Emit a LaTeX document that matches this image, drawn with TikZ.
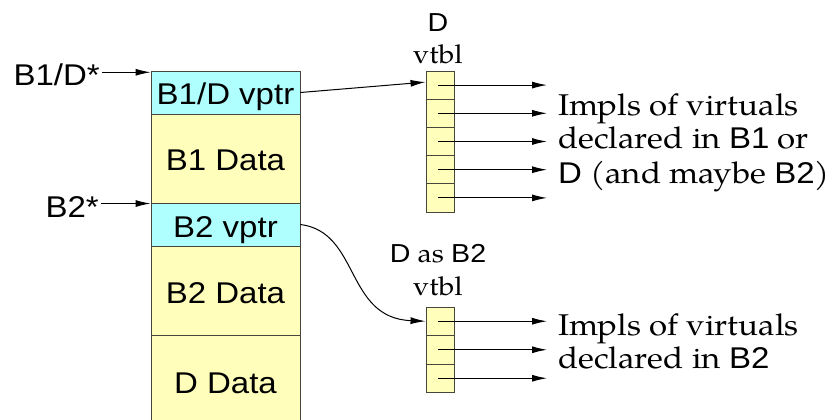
\documentclass[tikz,border=0pt]{standalone}
\usepackage{fontspec}
\setmainfont{TeX Gyre Pagella}
\newfontfamily\hv{Liberation Sans}
\usepackage{graphicx}
\usetikzlibrary{arrows.meta}
\definecolor{vcyan}{RGB}{176,255,255}
\definecolor{vyel}{RGB}{255,255,187}
\definecolor{edgec}{RGB}{70,70,60}
\newcommand{\hs}[1]{\scalebox{1.1}[1]{#1}}
\newcommand{\fbig}{\fontsize{30}{34}\selectfont}
\newcommand{\fsmall}{\fontsize{26}{30}\selectfont}
\tikzset{
  objbox/.style={draw=edgec, line width=0.9pt, minimum width=149pt, inner sep=0pt,
    text height=25pt, text depth=0pt, font=\hv\fbig},
  slot/.style={draw=edgec, line width=0.9pt, fill=vyel, minimum width=28pt, inner sep=0pt},
  arr/.style={-{Latex[length=15pt,width=7pt]}, line width=1pt},
  lab/.style={inner sep=0pt, anchor=base}
}
\begin{document}
\begin{tikzpicture}[x=1pt,y=-1pt]
\useasboundingbox (0,0) rectangle (831,420);
% object layout
\node[objbox, fill=vcyan, minimum height=43pt] (vp1) at (225.5,92.5) {\hs{B1/D vptr}};
\node[objbox, fill=vyel, minimum height=89pt] (b1) at (225.5,158.5) {\hs{B1 Data}};
\node[objbox, fill=vcyan, minimum height=43pt] (vp2) at (225.5,224.5) {\hs{B2 vptr}};
\node[objbox, fill=vyel, minimum height=89pt] (b2) at (225.5,290.5) {\hs{B2 Data}};
\node[objbox, fill=vyel, minimum height=92pt] (dd) at (225.5,381) {\hs{D Data}};
% pointers
\node[lab, anchor=base east] (p1) at (100,86) {\hv\fbig\hs{B1/D*}};
\node[lab, anchor=base east] (p2) at (99,217) {\hv\fbig\hs{B2*}};
\draw[arr] ([xshift=2pt,yshift=3pt]p1.east) -- ([yshift=3pt]p1.east -| vp1.west);
\draw[arr] ([xshift=2pt,yshift=3pt]p2.east) -- ([yshift=3pt]p2.east -| vp2.west);
% D vtbl
\node[lab] (dl) at (438,32) {\hv\fsmall\hs{D}};
\node[lab] (dv) at (438,64) {\fsmall\hs{vtbl}};
\foreach \i/\y in {1/85.1,2/113.3,3/141.5,4/169.7,5/197.9}{
  \node[slot, minimum height=28.2pt] (d\i) at (440,\y) {};
  \coordinate (t\i) at (547,\y);
  \draw[arr] ([xshift=-2pt]d\i.center) -- (t\i);
}
% D as B2 vtbl
\node[lab] (el) at (438,262) {\fsmall\hs{{\hv D} as {\hv B2}}};
\node[lab] (ev) at (438,295) {\fsmall\hs{vtbl}};
\foreach \i/\y in {1/321.25,2/349.75,3/378.25}{
  \node[slot, minimum height=28.5pt] (e\i) at (440,\y) {};
  \coordinate (u\i) at (547,\y);
  \draw[arr] ([xshift=-2pt]e\i.center) -- (u\i);
}
% vptr links
\draw[arr] (vp1.east) -- ([yshift=3pt]d1.west);
\draw[arr] (vp2.east) .. controls (360,232) and (345,318) .. (e1.west);
% descriptions
\node[lab, anchor=base west] (i1) at (558,115) {\fbig\hs{Impls of virtuals}};
\node[lab, anchor=base west] (i2) at (558,149) {\fbig\hs{declared in {\hv B1} or}};
\node[lab, anchor=base west] (i3) at (558,183) {\fbig\hs{{\hv D} (and maybe {\hv B2})}};
\node[lab, anchor=base west] (j1) at (558,335) {\fbig\hs{Impls of virtuals}};
\node[lab, anchor=base west] (j2) at (558,368) {\fbig\hs{declared in {\hv B2}}};
\end{tikzpicture}
\end{document}
